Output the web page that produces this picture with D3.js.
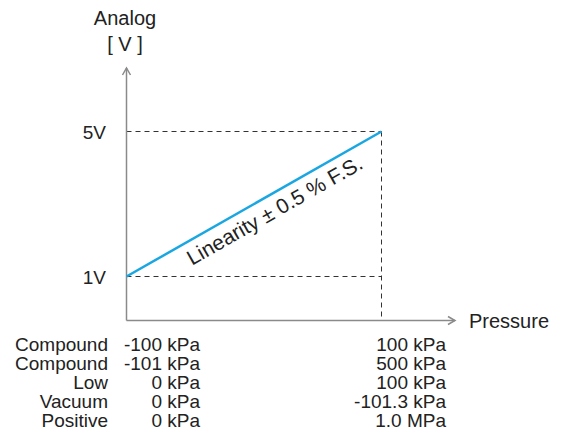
<!DOCTYPE html>
<html>
<head>
<meta charset="utf-8">
<script src="https://cdn.jsdelivr.net/npm/d3@7.9.0/dist/d3.min.js"></script>
<style>
  body { margin: 0; background: #fff; }
  text { font-family: Arial, "Liberation Sans", sans-serif; fill: #222; }
</style>
</head>
<body>
<svg id="chart" width="562" height="444"></svg>
<script>
// output range in volts, pressure in % of full scale
const voltTicks   = [1, 5];
const voltLabels  = ['1V', '5V'];
const linePoints  = [[0, 1], [100, 5]];   // [pressure %FS, volts]

const rangeTypes  = ['Compound', 'Compound', 'Low', 'Vacuum', 'Positive'];
const rangeMin    = ['-100 kPa', '-101 kPa', '0 kPa', '0 kPa', '0 kPa'];
const rangeMax    = ['100 kPa', '500 kPa', '100 kPa', '-101.3 kPa', '1.0 MPa'];

const svg = d3.select('#chart');

const x = d3.scaleLinear().domain([0, 100]).range([126.5, 381.5]);
const y = d3.scaleLinear().domain([1, 5]).range([276.5, 131.5]);

const originY = 320.5;   // where the pressure axis sits
const axisTop = 68;
const axisEnd = 455;
const axisCol = '#8a8a8a';

// dashed guides
const guides = svg.append('g')
  .attr('stroke', '#333')
  .attr('stroke-width', 1)
  .attr('stroke-dasharray', '5,4')
  .attr('fill', 'none');

voltTicks.forEach(v => {
  guides.append('line')
    .attr('x1', x(0)).attr('x2', x(100))
    .attr('y1', y(v)).attr('y2', y(v));
});
guides.append('line')
  .attr('x1', x(100)).attr('x2', x(100))
  .attr('y1', y(5)).attr('y2', originY);

// axes
const axes = svg.append('g')
  .attr('stroke', axisCol)
  .attr('stroke-width', 1.5)
  .attr('fill', 'none');

axes.append('line')
  .attr('x1', x(0)).attr('x2', x(0))
  .attr('y1', originY).attr('y2', axisTop);
axes.append('path')
  .attr('d', `M${x(0) - 4},${axisTop + 7} L${x(0)},${axisTop} L${x(0) + 4},${axisTop + 7}`);

axes.append('line')
  .attr('x1', x(0)).attr('x2', axisEnd)
  .attr('y1', originY).attr('y2', originY);
axes.append('path')
  .attr('d', `M${axisEnd - 7},${originY - 4} L${axisEnd},${originY} L${axisEnd - 7},${originY + 4}`);

// characteristic line
const line = d3.line().x(d => x(d[0])).y(d => y(d[1]));
svg.append('path')
  .datum(linePoints)
  .attr('d', line)
  .attr('fill', 'none')
  .attr('stroke', '#1aa7e1')
  .attr('stroke-width', 2.5);

// rotated linearity label
const p0 = linePoints[0], p1 = linePoints[1];
const ang = Math.atan2(y(p1[1]) - y(p0[1]), x(p1[0]) - x(p0[0])) * 180 / Math.PI;
const t = 0.55;
const lx = x(p0[0] + (p1[0] - p0[0]) * t);
const ly = y(p0[1] + (p1[1] - p0[1]) * t);
svg.append('text')
  .attr('transform', `translate(${lx},${ly}) rotate(${ang})`)
  .attr('text-anchor', 'middle')
  .attr('dy', 23)
  .attr('font-size', 21)
  .text('Linearity ± 0.5 % F.S.');

// axis labels
svg.append('text')
  .attr('x', 125).attr('y', 25)
  .attr('text-anchor', 'middle')
  .attr('font-size', 20)
  .text('Analog');
svg.append('text')
  .attr('x', 125).attr('y', 51)
  .attr('text-anchor', 'middle')
  .attr('font-size', 20)
  .text('[ V ]');
svg.append('text')
  .attr('x', 469).attr('y', originY + 7)
  .attr('font-size', 20)
  .text('Pressure');

voltTicks.forEach((v, i) => {
  svg.append('text')
    .attr('x', 106).attr('y', y(v) + 7)
    .attr('text-anchor', 'end')
    .attr('font-size', 19)
    .text(voltLabels[i]);
});

// range table under the pressure axis
const rowY = i => 351 + i * 19;
rangeTypes.forEach((name, i) => {
  svg.append('text')
    .attr('x', 108).attr('y', rowY(i))
    .attr('text-anchor', 'end')
    .attr('font-size', 19)
    .text(name);
  svg.append('text')
    .attr('x', 200).attr('y', rowY(i))
    .attr('text-anchor', 'end')
    .attr('font-size', 19)
    .text(rangeMin[i]);
  svg.append('text')
    .attr('x', 446).attr('y', rowY(i))
    .attr('text-anchor', 'end')
    .attr('font-size', 19)
    .text(rangeMax[i]);
});
</script>
</body>
</html>
